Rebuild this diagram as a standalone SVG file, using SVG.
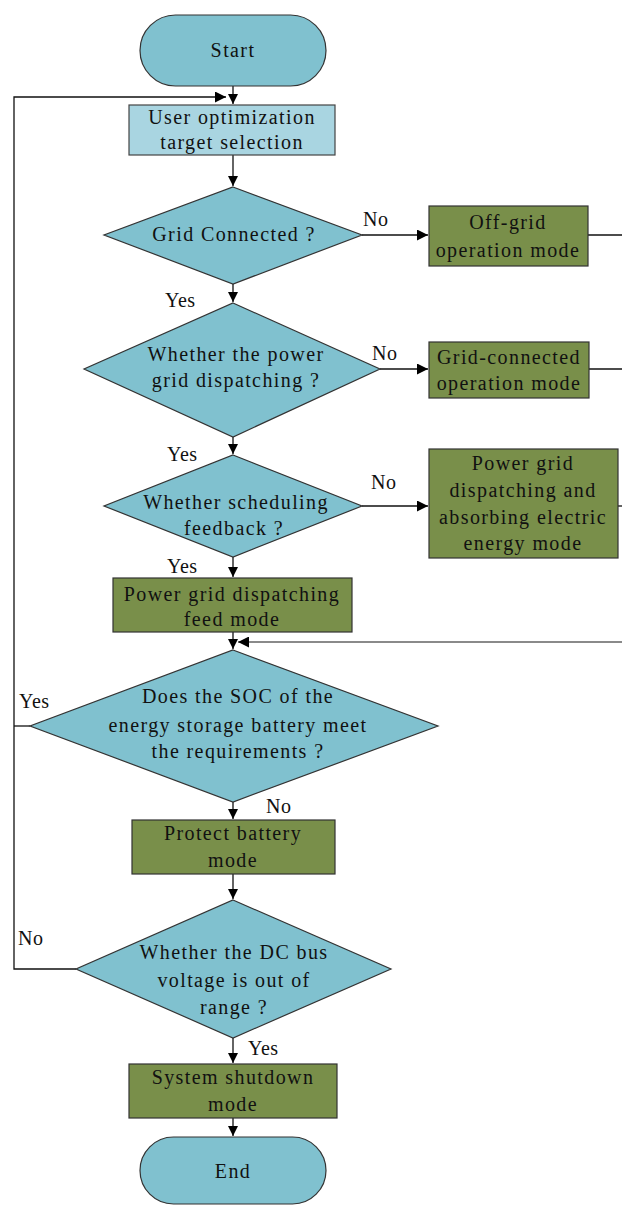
<svg xmlns="http://www.w3.org/2000/svg" width="622" height="1205" viewBox="0 0 622 1205">
  <style>
    .term { fill: #80c1cf; stroke: #333; stroke-width: 1.2; }
    .dec { fill: #80c1cf; stroke: #333; stroke-width: 1.2; }
    .inp { fill: #a9d5e1; stroke: #444; stroke-width: 1.2; }
    .mode { fill: #798f4a; stroke: #333; stroke-width: 1.2; }
    .lbl { font-family: "Liberation Serif", "Times New Roman", serif; font-size: 20px; letter-spacing: 1.4px; fill: #111; text-anchor: middle; }
    .tag { font-family: "Liberation Serif", "Times New Roman", serif; font-size: 20px; letter-spacing: 0.5px; fill: #111; }
    .edge { fill: none; stroke: #111; stroke-width: 1.3; }
    .ret { fill: none; stroke: #8a8a8a; stroke-width: 2; }
  </style>
  <defs>
    <marker id="arr" viewBox="0 0 10 10" refX="10" refY="5" markerWidth="10" markerHeight="10" markerUnits="userSpaceOnUse" orient="auto">
      <path d="M0,0 L10,5 L0,10 z" fill="#000"/>
    </marker>
    <marker id="arrW" viewBox="0 0 10 10" refX="10" refY="5" markerWidth="11" markerHeight="11" markerUnits="userSpaceOnUse" orient="auto">
      <path d="M0,0 L10,5 L0,10 z" fill="#000"/>
    </marker>
  </defs>

  <!-- connectors -->
  <g id="connectors">
    <path class="edge" d="M233,86 V104" marker-end="url(#arr)"/>
    <path class="edge" d="M233,155 V186" marker-end="url(#arr)"/>
    <path class="edge" d="M362,235 H428" marker-end="url(#arrW)"/>
    <path class="edge" d="M588,235 H622"/>
    <path class="edge" d="M233,284 V302" marker-end="url(#arr)"/>
    <path class="edge" d="M380,369 H428" marker-end="url(#arrW)"/>
    <path class="edge" d="M589,369 H622"/>
    <path class="edge" d="M233,437 V454" marker-end="url(#arr)"/>
    <path class="edge" d="M362,506 H428" marker-end="url(#arrW)"/>
    <path class="edge" d="M618,506 H622"/>
    <path class="edge" d="M233,557 V577" marker-end="url(#arr)"/>
    <path class="edge" d="M233,632 V649" marker-end="url(#arr)"/>
    <path class="ret" d="M622,642 H238" marker-end="url(#arrW)"/>
    <path class="edge" d="M233,802 V819" marker-end="url(#arr)"/>
    <path class="edge" d="M233,874 V899" marker-end="url(#arr)"/>
    <path class="edge" d="M233,1038 V1063" marker-end="url(#arr)"/>
    <path class="edge" d="M233,1118 V1136" marker-end="url(#arr)"/>
    <!-- loop back to the target selection -->
    <path class="edge" d="M76,969 H14 V97 H226" marker-end="url(#arrW)"/>
    <path class="edge" d="M30,726 H14"/>
    <text class="tag" x="363" y="226">No</text>
    <text class="tag" x="165" y="307">Yes</text>
    <text class="tag" x="372" y="360">No</text>
    <text class="tag" x="167" y="461">Yes</text>
    <text class="tag" x="371" y="489">No</text>
    <text class="tag" x="167" y="573">Yes</text>
    <text class="tag" x="19" y="708">Yes</text>
    <text class="tag" x="266" y="813">No</text>
    <text class="tag" x="18" y="945">No</text>
    <text class="tag" x="248" y="1055">Yes</text>
  </g>

  <g id="start">
    <rect class="term" x="140" y="15" width="186" height="71" rx="35.5"/>
    <text class="lbl" x="233" y="57">Start</text>
  </g>

  <g id="target-selection">
    <rect class="inp" x="129" y="105" width="206" height="50"/>
    <text class="lbl" x="232" y="124">User optimization</text>
    <text class="lbl" x="232" y="149">target selection</text>
  </g>

  <g id="grid-connected">
    <polygon class="dec" points="233,187 362,235 233,284 104,235"/>
    <text class="lbl" x="234" y="241">Grid Connected ?</text>
  </g>

  <g id="off-grid">
    <rect class="mode" x="429" y="206" width="159" height="60"/>
    <text class="lbl" x="508" y="229">Off-grid</text>
    <text class="lbl" x="508" y="257">operation mode</text>
  </g>

  <g id="grid-dispatching">
    <polygon class="dec" points="233,303 380,369 233,437 84,369"/>
    <text class="lbl" x="236" y="361">Whether the power</text>
    <text class="lbl" x="236" y="387">grid dispatching ?</text>
  </g>

  <g id="grid-connected-mode">
    <rect class="mode" x="429" y="342" width="160" height="56"/>
    <text class="lbl" x="509" y="364">Grid-connected</text>
    <text class="lbl" x="509" y="390">operation mode</text>
  </g>

  <g id="scheduling-feedback">
    <polygon class="dec" points="233,455 362,506 233,557 104,506"/>
    <text class="lbl" x="236" y="509">Whether scheduling</text>
    <text class="lbl" x="234" y="535">feedback ?</text>
  </g>

  <g id="absorbing-mode">
    <rect class="mode" x="429" y="449" width="189" height="109"/>
    <text class="lbl" x="523" y="470">Power grid</text>
    <text class="lbl" x="523" y="497">dispatching and</text>
    <text class="lbl" x="523" y="524">absorbing electric</text>
    <text class="lbl" x="523" y="550">energy mode</text>
  </g>

  <g id="feed-mode">
    <rect class="mode" x="113" y="578" width="239" height="54"/>
    <text class="lbl" x="232" y="601">Power grid dispatching</text>
    <text class="lbl" x="232" y="626">feed mode</text>
  </g>

  <g id="soc-check">
    <polygon class="dec" points="233,650 438,726 233,802 30,726"/>
    <text class="lbl" x="238" y="703">Does the SOC of the</text>
    <text class="lbl" x="238" y="732">energy storage battery meet</text>
    <text class="lbl" x="238" y="758">the requirements ?</text>
  </g>

  <g id="protect-battery">
    <rect class="mode" x="132" y="820" width="203" height="54"/>
    <text class="lbl" x="233" y="840">Protect battery</text>
    <text class="lbl" x="233" y="867">mode</text>
  </g>

  <g id="dc-bus-check">
    <polygon class="dec" points="233,900 391,969 233,1038 76,969"/>
    <text class="lbl" x="234" y="959">Whether the DC bus</text>
    <text class="lbl" x="234" y="987">voltage is out of</text>
    <text class="lbl" x="234" y="1014">range ?</text>
  </g>

  <g id="shutdown">
    <rect class="mode" x="129" y="1064" width="208" height="54"/>
    <text class="lbl" x="233" y="1084">System shutdown</text>
    <text class="lbl" x="233" y="1111">mode</text>
  </g>

  <g id="end">
    <rect class="term" x="140" y="1137" width="186" height="67" rx="33.5"/>
    <text class="lbl" x="233" y="1178">End</text>
  </g>
</svg>
